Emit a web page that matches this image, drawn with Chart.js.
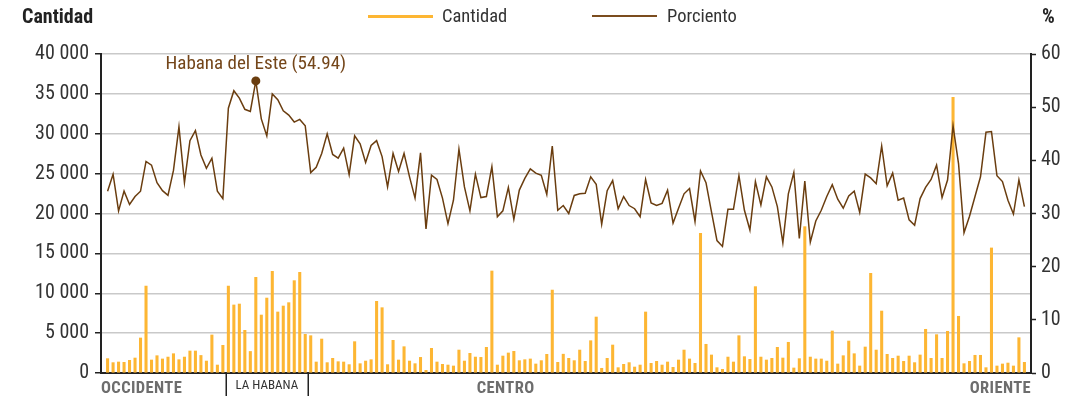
<!DOCTYPE html>
<html>
<head>
<meta charset="utf-8">
<script src="https://cdn.jsdelivr.net/npm/chart.js@4.4.0/dist/chart.umd.min.js"></script>
<style>
  html, body { margin: 0; padding: 0; background: #fff; }
  #wrap { position: relative; width: 1091px; height: 403px; font-family: 'Roboto Condensed', sans-serif; }
  #wrap canvas { position: absolute; left: 0; top: 0; }
  .hd { position: absolute; top: 4px; line-height: 24px; font-size: 20px; white-space: nowrap; }
  .bold { font-weight: bold; color: #222; }
  .lg { color: #333; font-size: 18.5px; }
  .sw { position: absolute; top: 15px; width: 65px; height: 2.5px; }
</style>
</head>
<body>
<div id="wrap">
  <canvas id="chart" width="1091" height="403"></canvas>
  <div class="hd bold" style="left:22px">Cantidad</div>
  <div class="sw" style="left:368px;background:#FDB633"></div>
  <div class="hd lg" style="left:442px">Cantidad</div>
  <div class="sw" style="left:592px;height:2px;background:#7B4C1E"></div>
  <div class="hd lg" style="left:667px">Porciento</div>
  <div class="hd bold" style="left:1042px">%</div>
</div>
<script>
// --- Data (one value per municipio, west to east) ---
const cantidad = [
  1800, 1300, 1380, 1340, 1590, 1880, 4390, 10900, 1630, 2170,
  1760, 2000, 2420, 1670, 2000, 2760, 2760, 2200, 1500, 4770,
  1000, 3470, 10900, 8530, 8650, 5350, 2700, 12000, 7270, 9400,
  12750, 7650, 8400, 8820, 11580, 12620, 4850, 4680, 1380, 4260,
  1300, 1840, 1420, 1380, 1050, 3930, 1170, 1500, 1670, 8990,
  8190, 1050, 4100, 1630, 3300, 1500, 1170, 1960, 330, 3090,
  1380, 1090, 1000, 880, 2880, 1500, 2470, 2000, 1960, 3220,
  12790, 1000, 2130, 2510, 2720, 1550, 1670, 1760, 1130, 1550,
  2340, 10400, 1340, 2360, 1840, 1550, 2880, 1460, 4050, 7020,
  590, 1840, 3510, 670, 1090, 1300, 750, 1000, 7650, 1210,
  1460, 1000, 1380, 710, 1630, 2880, 1760, 1210, 17500, 3600,
  2260, 670, 460, 2000, 1380, 4680, 2050, 1710, 10830, 2000,
  1630, 1840, 3220, 1880, 3850, 630, 1800, 18350, 2000, 1760,
  1760, 1500, 5270, 1130, 2170, 4010, 2420, 880, 3260, 12500,
  2880, 7770, 2340, 1840, 2130, 1460, 2130, 1300, 2260, 5480,
  1840, 4810, 1840, 5230, 34570, 7110, 1170, 1460, 2220, 2220,
  670, 15680, 880, 1130, 1250, 880, 4430, 1340
];
const porciento = [
  34.2, 37.4, 30.5, 34.2, 31.7, 33.2, 34.2, 39.8, 39.1, 35.8,
  34.3, 33.4, 38.1, 46.3, 35.8, 43.7, 45.6, 41.0, 38.5, 40.4,
  34.2, 32.8, 49.8, 53.1, 51.7, 49.6, 49.2, 54.94, 47.8, 44.6,
  52.5, 51.4, 49.3, 48.5, 47.2, 47.7, 46.5, 37.7, 38.7, 41.3,
  45.0, 41.1, 40.4, 42.3, 37.3, 44.6, 43.1, 39.6, 42.8, 43.7,
  40.7, 35.0, 41.3, 37.9, 41.3, 36.9, 32.9, 41.4, 27.1, 37.2,
  36.4, 32.9, 28.1, 32.5, 42.1, 35.0, 30.5, 37.4, 33.0, 33.2,
  38.8, 29.4, 30.5, 34.9, 28.9, 34.4, 36.6, 38.4, 37.6, 37.2,
  33.6, 42.7, 30.6, 31.5, 30.0, 33.4, 33.7, 33.8, 36.9, 35.5,
  28.0, 34.3, 36.2, 30.9, 33.2, 31.5, 30.9, 29.4, 36.4, 32.0,
  31.5, 31.9, 34.4, 28.2, 31.0, 33.7, 34.7, 28.5, 38.0, 35.8,
  30.3, 24.9, 23.8, 30.8, 30.8, 37.1, 30.6, 26.9, 36.0, 31.6,
  36.9, 35.0, 31.3, 24.5, 33.7, 37.7, 25.3, 36.1, 24.6, 28.6,
  30.6, 33.2, 35.4, 32.7, 31.0, 33.3, 34.2, 30.2, 37.4, 36.7,
  35.6, 42.7, 35.2, 37.6, 32.5, 32.9, 28.8, 27.8, 32.8, 34.9,
  36.4, 39.1, 33.0, 36.3, 46.5, 39.4, 26.4, 29.5, 33.2, 36.9,
  45.3, 45.4, 37.1, 36.0, 32.5, 29.9, 36.3, 31.3
];
const peakName = 'Habana del Este';

// regions along the x axis (first and last municipio index)
const regionNames = ['OCCIDENTE', 'LA HABANA', 'CENTRO', 'ORIENTE'];
const regionFirst = [0, 22, 37, 109];
const regionLast = [21, 36, 108, 167];

const peakIdx = porciento.indexOf(Math.max(...porciento));
const fmtMiles = v => String(v).replace(/\B(?=(\d{3})+(?!\d))/g, ' ');
const FONT = "'Roboto Condensed', sans-serif";

// --- Extra drawing: peak label and region labels ---
const extras = {
  id: 'extras',
  afterDraw(chart) {
    const ctx = chart.ctx, xs = chart.scales.x, area = chart.chartArea;
    const pt = chart.getDatasetMeta(1).data[peakIdx];
    ctx.save();
    ctx.font = `19px ${FONT}`;
    ctx.fillStyle = '#74461A';
    ctx.textAlign = 'center';
    ctx.textBaseline = 'middle';
    ctx.fillText(`${peakName} (${porciento[peakIdx].toFixed(2)})`, pt.x, pt.y - 17);

    // dividers around La Habana
    ctx.strokeStyle = '#222';
    ctx.lineWidth = 1.5;
    [regionFirst[1] - 0.5, regionLast[1] + 0.5].forEach(v => {
      const x = Math.round(xs.getPixelForValue(v)) + 0.25;
      ctx.beginPath();
      ctx.moveTo(x, area.bottom);
      ctx.lineTo(x, area.bottom + 23);
      ctx.stroke();
    });

    regionNames.forEach((name, i) => {
      const x0 = xs.getPixelForValue(regionFirst[i] - 0.5);
      const x1 = xs.getPixelForValue(regionLast[i] + 0.5);
      if (i === 1) {
        ctx.font = `13px ${FONT}`;
        ctx.fillStyle = '#333';
        ctx.textAlign = 'center';
        ctx.fillText(name, (x0 + x1) / 2, area.bottom + 13);
        return;
      }
      ctx.font = `bold 16.5px ${FONT}`;
      ctx.letterSpacing = '0.4px';
      ctx.fillStyle = '#6d6d6d';
      let x = (x0 + x1) / 2;
      ctx.textAlign = 'center';
      if (i === 0) { ctx.textAlign = 'left'; x = area.left; }
      if (i === regionNames.length - 1) { ctx.textAlign = 'right'; x = area.right; }
      ctx.fillText(name, x, area.bottom + 16);
      ctx.letterSpacing = '0px';
    });
    ctx.restore();
  }
};

new Chart(document.getElementById('chart'), {
  type: 'bar',
  data: {
    datasets: [
      {
        label: 'Cantidad',
        data: cantidad.map((v, i) => ({ x: i, y: v })),
        backgroundColor: '#FDB633',
        barThickness: 2.4,
        yAxisID: 'y',
        order: 2
      },
      {
        type: 'line',
        label: 'Porciento',
        data: porciento.map((v, i) => ({ x: i, y: v })),
        borderColor: '#6A3D0F',
        borderWidth: 1.5,
        tension: 0,
        pointRadius: c => c.dataIndex === peakIdx ? 4.5 : 0,
        pointBackgroundColor: '#6A3D0F',
        pointBorderWidth: 0,
        yAxisID: 'y1',
        order: 1
      }
    ]
  },
  options: {
    responsive: false,
    animation: false,
    layout: { padding: { top: 54, left: 0, right: 0, bottom: 0 } },
    plugins: { legend: { display: false }, tooltip: { enabled: false } },
    scales: {
      x: {
        type: 'linear',
        min: -1.2,
        max: 168.2,
        offset: false,
        ticks: { display: false },
        grid: { display: false, offset: false },
        border: { display: true, color: '#222', width: 2 },
        afterFit: s => { s.height = 30; }
      },
      y: {
        position: 'left',
        min: 0,
        max: 40000,
        ticks: {
          stepSize: 5000,
          color: '#333',
          padding: 6,
          font: { family: FONT, size: 20 },
          callback: v => fmtMiles(v)
        },
        grid: { color: '#c9c9c9', lineWidth: 1.5, tickColor: '#222', tickLength: 6, tickWidth: 1.5 },
        border: { display: true, color: '#222', width: 2 },
        afterFit: s => { s.width = 101; }
      },
      y1: {
        position: 'right',
        min: 0,
        max: 60,
        ticks: {
          stepSize: 10,
          color: '#333',
          padding: 5,
          font: { family: FONT, size: 20 }
        },
        grid: { drawOnChartArea: false, tickColor: '#222', tickLength: 5, tickWidth: 1.5 },
        border: { display: true, color: '#222', width: 2 },
        afterFit: s => { s.width = 60; }
      }
    }
  },
  plugins: [extras]
});
</script>
</body>
</html>
